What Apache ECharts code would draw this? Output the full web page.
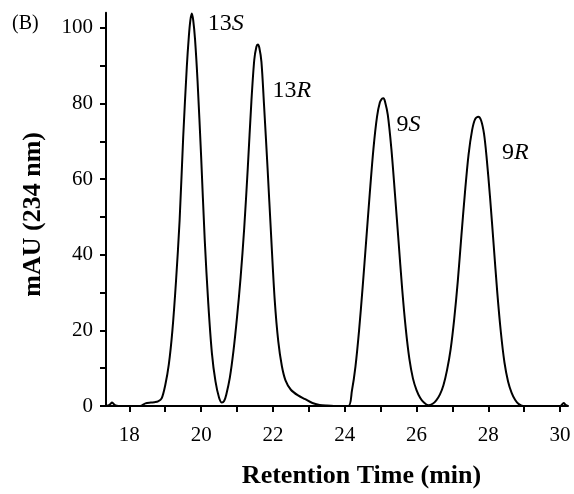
<!DOCTYPE html>
<html>
<head>
<meta charset="utf-8">
<script src="https://cdn.jsdelivr.net/npm/echarts@6/dist/echarts.min.js"></script>
<style>
html,body{margin:0;padding:0;background:#fff;}
#chart{width:574px;height:494px;}
</style>
</head>
<body>
<div id="chart"></div>
<script>
// Retention time (min)
const retentionTime = [
  17.35, 17.45, 17.52, 17.60, 17.70, 18.30, 18.45, 18.60, 18.70, 18.80,
  18.90, 19.00, 19.10, 19.20, 19.30, 19.40, 19.50, 19.60, 19.66, 19.70,
  19.74, 19.78, 19.83, 19.90, 20.00, 20.10, 20.20, 20.30, 20.40, 20.50,
  20.58, 20.64, 20.70, 20.80, 20.90, 21.00, 21.10, 21.20, 21.30, 21.40,
  21.48, 21.54, 21.58, 21.62, 21.68, 21.75, 21.85, 21.95, 22.05, 22.15,
  22.25, 22.35, 22.50, 22.70, 22.90, 23.10, 23.30, 23.50, 23.70, 24.10,
  24.20, 24.30, 24.40, 24.50, 24.60, 24.70, 24.80, 24.90, 24.98, 25.04,
  25.08, 25.12, 25.20, 25.30, 25.40, 25.50, 25.60, 25.70, 25.80, 25.90,
  26.00, 26.10, 26.20, 26.33, 26.45, 26.55, 26.65, 26.75, 26.85, 26.95,
  27.05, 27.15, 27.25, 27.35, 27.45, 27.55, 27.63, 27.72, 27.80, 27.88,
  27.95, 28.05, 28.15, 28.25, 28.35, 28.45, 28.55, 28.65, 28.75, 28.85,
  28.97, 30.00, 30.10, 30.15, 30.22
];
// Absorbance (mAU at 234 nm)
const absorbance = [
  0.0, 0.3, 0.9, 0.2, 0.0, 0.0, 0.7, 0.9, 1.0, 1.2,
  2.0, 5.5, 11.0, 20.0, 33.0, 49.0, 71.0, 89.5, 98.0, 102.0,
  103.8, 102.0, 97.0, 86.0, 66.0, 44.0, 27.0, 14.0, 6.5, 2.2,
  0.9, 1.3, 3.0, 7.5, 14.5, 23.5, 34.0, 47.0, 63.0, 80.5,
  91.5, 95.0, 95.6, 94.8, 91.0, 80.0, 63.0, 45.0, 28.0, 17.0,
  10.5, 6.8, 4.3, 2.8, 1.8, 0.8, 0.3, 0.1, 0.0, 0.0,
  4.0, 10.5, 20.0, 31.5, 44.0, 56.5, 68.0, 76.5, 80.3, 81.3,
  81.4, 80.6, 77.0, 68.0, 56.0, 43.5, 31.0, 20.5, 12.5, 7.3,
  4.2, 2.2, 1.0, 0.2, 0.6, 1.5, 3.0, 5.5, 9.5, 15.0,
  23.0, 33.0, 45.0, 56.5, 66.5, 73.0, 75.8, 76.5, 75.5, 72.0,
  66.0, 55.0, 42.5, 30.0, 19.5, 11.5, 6.5, 3.5, 1.6, 0.5,
  0.0, 0.0, 0.8, 0.3, 0.0
];
// Peak annotations
const peakTimes = [19.74, 21.58, 25.08, 27.72];
const peakNumbers = ['13', '13', '9', '9'];
const peakConfigs = ['S', 'R', 'S', 'R'];
// Axis ticks / labels
const xTicks = [18, 19, 20, 21, 22, 23, 24, 25, 26, 27, 28, 29, 30];
const xTickLabels = [18, 20, 22, 24, 26, 28, 30];
const yTicks = [0, 10, 20, 30, 40, 50, 60, 70, 80, 90, 100];
const yTickLabels = [0, 20, 40, 60, 80, 100];

const seriesData = retentionTime.map((t, i) => [t, absorbance[i]]);
const labelOffsets = [[34, 10], [34, 46], [25, 27], [37, 36]];
const markData = peakTimes.map((t, k) => {
  const idx = retentionTime.indexOf(t);
  return {
    coord: [t, absorbance[idx]],
    label: {
      offset: labelOffsets[k],
      formatter: '{n|' + peakNumbers[k] + '}{i|' + peakConfigs[k] + '}'
    }
  };
});

const serif = '"Liberation Serif", "Times New Roman", serif';
const chart = echarts.init(document.getElementById('chart'), null, {renderer: 'canvas'});
chart.setOption({
  animation: false,
  backgroundColor: '#ffffff',
  title: {
    text: '(B)',
    left: 12,
    top: 14,
    padding: 0,
    textStyle: {fontFamily: serif, fontSize: 20, fontWeight: 'normal', color: '#000'}
  },
  grid: {left: 106, right: 6, top: 12.7, bottom: 82.5, containLabel: false},
  xAxis: {
    type: 'value',
    min: 17.35,
    max: 30.22,
    name: 'Retention Time (min)',
    nameLocation: 'middle',
    nameGap: 57,
    nameTextStyle: {fontFamily: serif, fontSize: 26, fontWeight: 'bold', color: '#000', padding: [0, 0, 0, 49]},
    axisLine: {show: true, onZero: false, lineStyle: {color: '#000', width: 2}},
    axisTick: {show: true, inside: false, length: 6, lineStyle: {color: '#000', width: 2}, customValues: xTicks},
    axisLabel: {fontFamily: serif, fontSize: 21, color: '#000', margin: 19, customValues: xTickLabels},
    splitLine: {show: false}
  },
  yAxis: {
    type: 'value',
    min: 0,
    max: 104,
    name: 'mAU (234 nm)',
    nameLocation: 'middle',
    nameGap: 60,
    nameRotate: 90,
    nameTextStyle: {fontFamily: serif, fontSize: 26, fontWeight: 'bold', color: '#000', padding: [0, 10, 0, 0]},
    axisLine: {show: true, lineStyle: {color: '#000', width: 2}},
    axisTick: {show: true, inside: false, length: 6, lineStyle: {color: '#000', width: 2}, customValues: yTicks},
    axisLabel: {fontFamily: serif, fontSize: 21, color: '#000', margin: 13, customValues: yTickLabels},
    splitLine: {show: false}
  },
  series: [{
    type: 'line',
    data: seriesData,
    showSymbol: false,
    smooth: 0.3,
    lineStyle: {color: '#000', width: 2},
    clip: true,
    markPoint: {
      symbol: 'circle',
      symbolSize: 0,
      silent: true,
      label: {
        show: true,
        position: 'inside',
        align: 'center',
        verticalAlign: 'middle',
        color: '#000',
        rich: {
          n: {fontFamily: serif, fontSize: 24, color: '#000'},
          i: {fontFamily: serif, fontSize: 24, fontStyle: 'italic', color: '#000'}
        }
      },
      data: markData
    }
  }]
});
</script>
</body>
</html>
